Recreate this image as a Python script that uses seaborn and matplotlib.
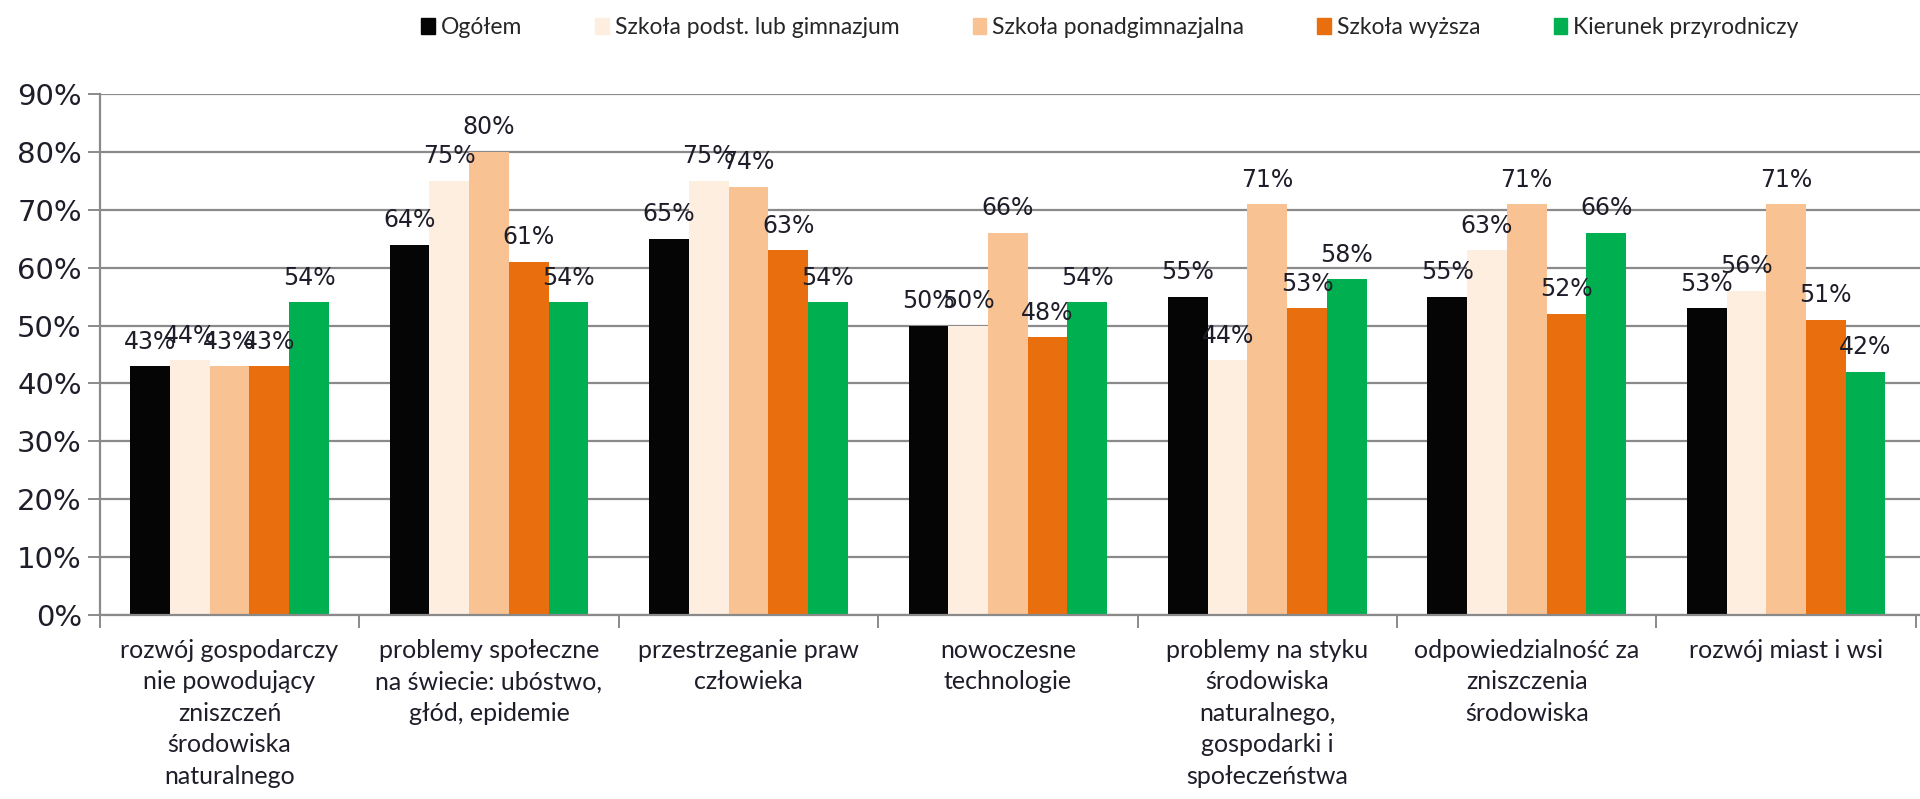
import matplotlib
matplotlib.use('Agg')
import matplotlib.pyplot as plt
import seaborn as sns
import numpy as np
import pandas as pd

# data (percent)
categories = [
    'rozwój gospodarczy\nnie powodujący\nzniszczeń\nśrodowiska\nnaturalnego',
    'problemy społeczne\nna świecie: ubóstwo,\ngłód, epidemie',
    'przestrzeganie praw\nczłowieka',
    'nowoczesne\ntechnologie',
    'problemy na styku\nśrodowiska\nnaturalnego,\ngospodarki i\nspołeczeństwa',
    'odpowiedzialność za\nzniszczenia\nśrodowiska',
    'rozwój miast i wsi',
]
groups = ['Ogółem', 'Szkoła podst. lub gimnazjum', 'Szkoła ponadgimnazjalna',
          'Szkoła wyższa', 'Kierunek przyrodniczy']
ogolem = [43, 64, 65, 50, 55, 55, 53]
podst = [44, 75, 75, 50, 44, 63, 56]
ponadgim = [43, 80, 74, 66, 71, 71, 71]
wyzsza = [43, 61, 63, 48, 53, 52, 51]
przyrod = [54, 54, 54, 54, 58, 66, 42]

colors = ['#050505', '#fdeee0', '#f9c293', '#e96f0e', '#00b050']

rows = []
for g, vals in zip(groups, [ogolem, podst, ponadgim, wyzsza, przyrod]):
    for c, v in zip(categories, vals):
        rows.append({'kat': c, 'grupa': g, 'val': v})
df = pd.DataFrame(rows)

sns.set_style('white')
plt.rcParams['font.family'] = ['Lato', 'DejaVu Sans']

fig = plt.figure(figsize=(19.2, 7.99), dpi=100)
ax = fig.add_axes([0.052, 0.2303, 0.948, 0.652])

sns.barplot(data=df, x='kat', y='val', hue='grupa', hue_order=groups,
            palette=colors, saturation=1, width=0.765, ax=ax,
            edgecolor='none', legend=True)

for cont in ax.containers:
    ax.bar_label(cont, fmt='%d%%', padding=9, fontsize=17,
                 color='#1e1e2a', family='DejaVu Sans')

ax.set_ylim(0, 90)
ax.set_xlim(-0.5, 6.516)
ax.set_yticks(np.arange(0, 91, 10))
ax.set_yticklabels(['%d%%' % t for t in range(0, 91, 10)],
                   fontsize=21, family='DejaVu Sans', color='#1e1e2a')
ax.yaxis.grid(True, color='#8a8a8a', linewidth=1.6)
ax.set_axisbelow(True)
ax.tick_params(axis='y', length=9, width=1.4, color='#8a8a8a', left=True, pad=4)

ax.set_xticks(range(len(categories)))
ax.set_xticklabels(categories, fontsize=18, linespacing=1.45,
                   color='#1e1e2a', va='top')
ax.set_xticks(np.arange(-0.5, 7, 1), minor=True)
ax.tick_params(axis='x', which='major', length=0, pad=17)
ax.tick_params(axis='x', which='minor', length=9, width=1.4, color='#8a8a8a',
               bottom=True)

ax.set_xlabel('')
ax.set_ylabel('')
for s in ['top', 'right']:
    ax.spines[s].set_visible(False)
ax.spines['left'].set_color('#8a8a8a')
ax.spines['bottom'].set_color('#8a8a8a')
ax.spines['left'].set_linewidth(1.6)
ax.spines['bottom'].set_linewidth(1.6)

ax.legend_.remove()
handles = [plt.Rectangle((0, 0), 1, 1, color=c) for c in colors]
fig.legend(handles, groups, loc='upper center', bbox_to_anchor=(0.578, 1.005),
           ncol=5, frameon=False, fontsize=16.5, handlelength=0.6,
           handleheight=0.7, handletextpad=0.25, columnspacing=3.2)

fig.savefig('out.png', dpi=100)
